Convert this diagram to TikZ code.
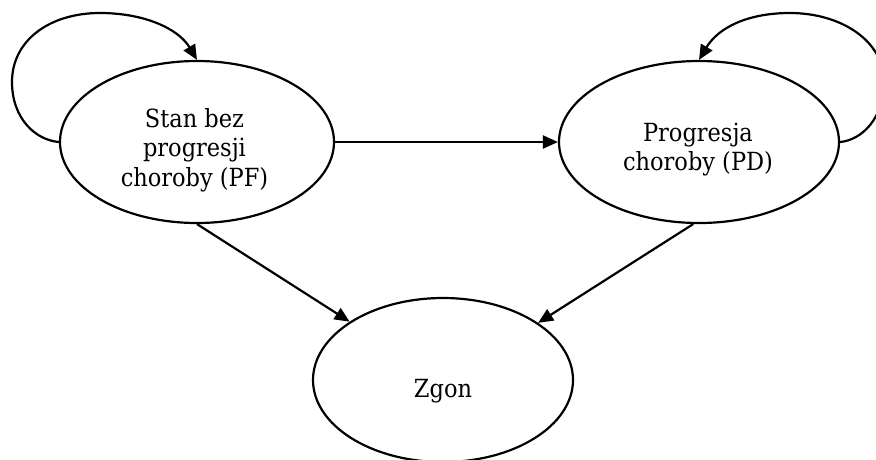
\documentclass[tikz,border=0pt]{standalone}
\usepackage{fontspec}
\setmainfont{DejaVu Serif Condensed}
\usetikzlibrary{shapes.geometric,arrows.meta}
\begin{document}
\begin{tikzpicture}[x=1pt,y=-1pt,
  state/.style={draw=black,line width=2.2pt,ellipse,inner sep=0pt,fill=white},
  lbl/.style={align=center,inner sep=0pt,font=\fontsize{25}{29.5}\selectfont},
  arr/.style={draw=black,line width=2.2pt,-{Triangle[length=15pt,width=13pt]}}]
\useasboundingbox[fill=white] (0,0) rectangle (876,459);
\node[state,minimum width=274pt,minimum height=162pt] (A) at (197,142) {};
\node[state,minimum width=280pt,minimum height=162pt] (B) at (699,142) {};
\node[state,minimum width=260pt,minimum height=164pt] (C) at (443,380) {};
\node[lbl] (tA) at (194.5,150) {Stan bez\\progresji\\choroby (PF)};
\node[lbl] (tB) at (698,149.5) {Progresja\\choroby (PD)};
\node[lbl] (tC) at (443,391) {Zgon};
\draw[arr] (A.east) -- (B.west);
\draw[arr] (A.south) -- (C.148.5);
\draw[arr] (B.-94) -- (C.31.8);
\draw[arr] (A.west) .. controls (35,140) and (12,118) .. (12,82)
  .. controls (12,40) and (50,13) .. (100,13)
  .. controls (143,13) and (178,28) .. (A.north);
\draw[arr] (B.east) .. controls (862,140) and (884,118) .. (884,82)
  .. controls (884,40) and (840,13) .. (790,13)
  .. controls (747,13) and (718,28) .. (B.north);
\end{tikzpicture}
\end{document}
